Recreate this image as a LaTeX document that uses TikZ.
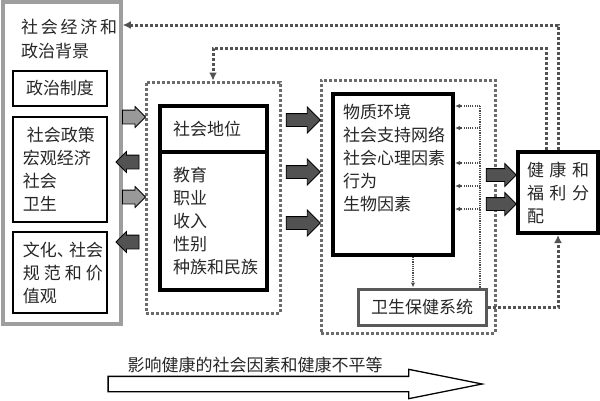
\documentclass[tikz,border=0pt]{standalone}
\usepackage{fontspec}
\setmainfont{Noto Sans CJK SC}
\usetikzlibrary{arrows.meta,shapes.arrows}

\begin{document}
\begin{tikzpicture}[x=1pt,y=-1pt,
  every node/.style={text=black!85, font=\fontsize{17}{23}\selectfont},
  ctxbox/.style={draw=black!38, line width=3.5pt},
  thinbox/.style={draw=black, line width=1.5pt},
  thickbox/.style={draw=black, line width=4pt},
  dotbox/.style={draw=black!58, line width=3pt, dash pattern=on 3pt off 2pt},
  fbline/.style={draw=black!68, line width=3pt, dash pattern=on 3pt off 2pt, -{Latex[length=8pt,width=8pt]}},
  tapline/.style={draw=black!70, line width=1.1pt, dash pattern=on 1.1pt off 1.1pt},
  taparrow/.style={tapline, -{Latex[length=5pt,width=4.5pt]}},
  blockarrow/.style={single arrow, draw=black, line width=0.8pt, inner xsep=0pt},
  ltarrow/.style={blockarrow, fill=black!40, minimum height=23, inner ysep=6.5pt, single arrow head extend=3.5pt},
  dkarrow/.style={blockarrow, fill=black!68, minimum height=23, inner ysep=6.5pt, single arrow head extend=3.5pt, shape border rotate=180},
  midarrow/.style={blockarrow, fill=black!68, minimum height=34, inner ysep=6pt, single arrow head extend=6.5pt},
  rtarrow/.style={blockarrow, fill=black!68, minimum height=30, inner ysep=6pt, single arrow head extend=5pt}]
\useasboundingbox (0,0) rectangle (600,400);

\node [ctxbox, minimum width=118, minimum height=322] (context) at (62,163) {};
\node [anchor=north west, inner sep=0pt, align=left, font=\fontsize{17}{24}\selectfont] (ctxtitle) at (21,19) {\makebox[96pt][s]{社\hfill 会\hfill 经\hfill 济\hfill 和}\\政治背景};
\node [thinbox, minimum width=94, minimum height=35] (polit) at (60,88.5) {政治制度};
\node [thinbox, minimum width=94, minimum height=105, text width=74, align=left] (policy) at (60,169.5) {\hspace*{4pt}社会政策\\宏观经济\\社会\\卫生};
\node [thinbox, minimum width=94, minimum height=81, text width=74, align=left] (culture) at (60,272.5) {\makebox[80pt][s]{文化、\hspace{-5pt}社会}\\\makebox[80pt][s]{规\hfill 范\hfill 和\hfill 价}\\值观};

\node [dotbox, minimum width=134, minimum height=231] (dot1) at (213,197.5) {};
\node [thickbox, minimum width=107, minimum height=46, text width=81, align=left] (statushead) at (213.5,129) {社会地位};
\node [thickbox, minimum width=107, minimum height=138, text width=81, align=left] (statusbody) at (213.5,221) {教育\\职业\\收入\\性别\\种族和民族};

\node [dotbox, minimum width=174, minimum height=253] (dot2) at (408,206.5) {};
\node [thickbox, minimum width=120, minimum height=161] (factors) at (393,174.5) {};
\node [anchor=north west, inner sep=0pt, align=left] (factorstext) at (343,104) {物质环境\\社会支持网络\\社会心理因素\\行为\\生物因素};
\node [draw=black!65, line width=3pt, minimum width=128, minimum height=36] (care) at (422,307) {卫生保健系统};

\node [thickbox, minimum width=80, minimum height=81, text width=62, align=left] (health) at (558,192.5) {\makebox[62pt][s]{健\hfill 康\hfill 和}\\\makebox[62pt][s]{福\hfill 利\hfill 分}\\配};

\node [ltarrow] (inA) at (130.5,117) {};
\node [dkarrow] (outA) at (131,162) {};
\node [ltarrow] (inB) at (130.5,197) {};
\node [dkarrow] (outB) at (131,242) {};
\node [midarrow] (midA) at (300,120) {};
\node [midarrow] (midB) at (300,172) {};
\node [midarrow] (midC) at (300,223) {};
\node [rtarrow] (rtA) at (498,175) {};
\node [rtarrow] (rtB) at (498,204) {};

\draw [fbline] (health.north) |- (context.east |- 0,25);
\draw [fbline] ([xshift=-12pt]health.north) |- (dot1.north |- 0,48) -- (dot1.north);
\draw [fbline] (care.east) -| (health.south);

\coordinate (drop) at ([xshift=20pt]factors.south);
\draw [taparrow] (drop) -- (drop |- care.north);
\coordinate (tapbot) at ([xshift=-7.5pt]care.north east);
\draw [tapline] (tapbot) -- (tapbot |- 0,105);
\foreach \y in {106,128,163,186,209}
  \draw [taparrow] (tapbot |- 0,\y) -- (factors.east |- 0,\y);

\node [single arrow, draw=black, fill=white, line width=1.3pt, minimum height=374, inner xsep=0pt, inner ysep=7pt, single arrow head extend=7pt, single arrow tip angle=22.6] (trend) at (276,384) {};
\node (trendlabel) at (255,365) {影响健康的社会因素和健康不平等};
\end{tikzpicture}
\end{document}
